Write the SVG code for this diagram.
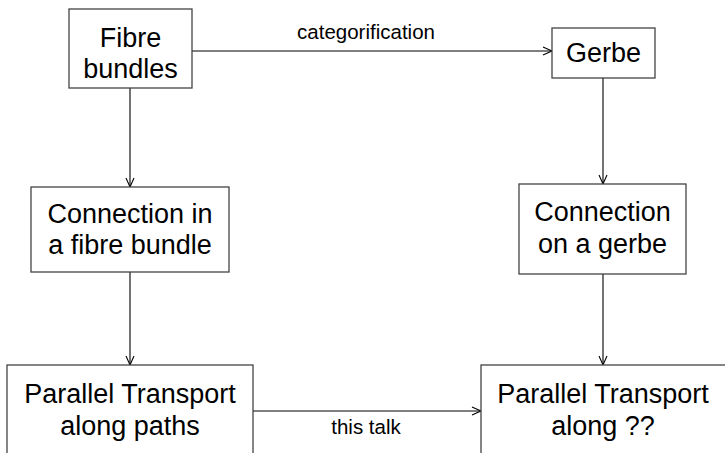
<svg xmlns="http://www.w3.org/2000/svg" width="725" height="453" viewBox="0 0 725 453">
<style>
.box{fill:#fff;stroke:#444;stroke-width:1.3}
.t{font-family:"Liberation Sans",Arial,sans-serif;font-size:27px;fill:#000;text-anchor:middle}
.l{font-family:"Liberation Sans",Arial,sans-serif;font-size:20.5px;fill:#000;text-anchor:middle}
.e{fill:none;stroke:#000;stroke-width:1.1}
</style>
<defs>
<marker id="ah" markerWidth="12" markerHeight="10" refX="10" refY="5" orient="auto" markerUnits="userSpaceOnUse">
<path d="M1,1 L10,5 L1,9" fill="none" stroke="#000" stroke-width="1.1"/>
</marker>
</defs>
<rect width="725" height="453" fill="#fff"/>
<g id="connectors">
<line class="e" x1="192" y1="51" x2="552" y2="51" marker-end="url(#ah)"/>
<text class="l" x="366" y="39">categorification</text>
<line class="e" x1="253" y1="411" x2="481" y2="411" marker-end="url(#ah)"/>
<text class="l" x="366" y="434">this talk</text>
<line class="e" x1="130" y1="88" x2="130" y2="187" marker-end="url(#ah)"/>
<line class="e" x1="130" y1="272" x2="130" y2="365" marker-end="url(#ah)"/>
<line class="e" x1="603" y1="78" x2="603" y2="184" marker-end="url(#ah)"/>
<line class="e" x1="603" y1="274" x2="603" y2="365" marker-end="url(#ah)"/>
</g>
<g id="fibre-bundles">
<rect class="box" x="69" y="9" width="123" height="79"/>
<text class="t" x="130.5" y="47">Fibre</text>
<text class="t" x="130.5" y="78">bundles</text>
</g>
<g id="gerbe">
<rect class="box" x="552" y="28" width="103" height="50"/>
<text class="t" x="603.5" y="62">Gerbe</text>
</g>
<g id="connection-fibre">
<rect class="box" x="31" y="187" width="198" height="85"/>
<text class="t" x="130" y="223">Connection in</text>
<text class="t" x="130" y="254">a fibre bundle</text>
</g>
<g id="connection-gerbe">
<rect class="box" x="519" y="184" width="167" height="90"/>
<text class="t" x="602.5" y="221">Connection</text>
<text class="t" x="602.5" y="253">on a gerbe</text>
</g>
<g id="pt-paths">
<rect class="box" x="7" y="365" width="246" height="100"/>
<text class="t" x="130" y="403">Parallel Transport</text>
<text class="t" x="130" y="435">along paths</text>
</g>
<g id="pt-unknown">
<rect class="box" x="481" y="365" width="260" height="100"/>
<text class="t" x="603" y="403">Parallel Transport</text>
<text class="t" x="603" y="435">along ??</text>
</g>
</svg>
